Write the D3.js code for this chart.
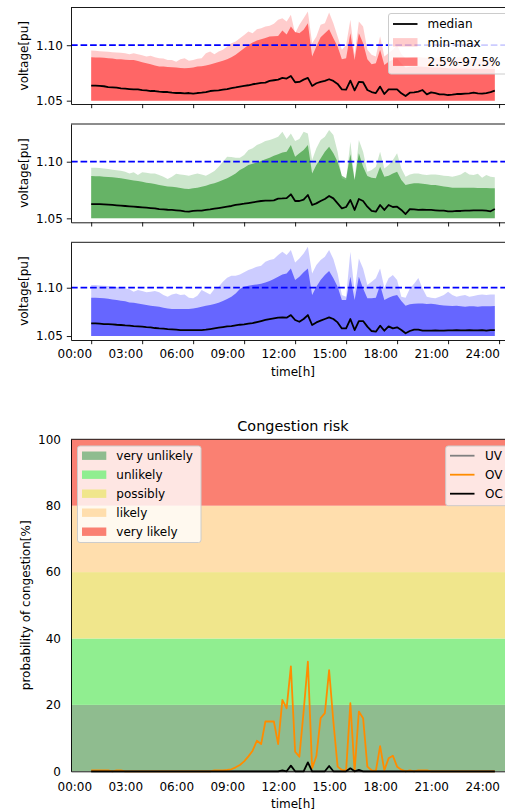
<!DOCTYPE html>
<html>
<head>
<meta charset="utf-8">
<script src="https://cdn.jsdelivr.net/npm/d3@7"></script>
<style>
  body { margin: 0; background: #fff; }
  text { font-family: "DejaVu Sans", sans-serif; fill: #000; }
</style>
</head>
<body>
<svg id="chart" width="505" height="812"></svg>
<script>
// ---- time axis ------------------------------------------------------------
const tickHours  = [0, 3, 6, 9, 12, 15, 18, 21, 24];
const tickLabels = ["00:00", "03:00", "06:00", "09:00", "12:00", "15:00", "18:00", "21:00", "24:00"];

// ---- voltage profiles, one value per quarter hour (pu) ----------------------
const lowerBound = 1.05;   // 0% and 2.5% quantiles sit on the 1.05 pu floor
const voltageLimit = 1.10;
const voltageTicks = [1.05, 1.10];

const medianA = [1.0636,1.0636,1.0633,1.0630,1.0623,1.0620,1.0617,1.0611,1.0608,1.0605,
  1.0602,1.0602,1.0596,1.0593,1.0587,1.0587,1.0581,1.0578,1.0578,1.0572,
  1.0569,1.0569,1.0566,1.0569,1.0563,1.0569,1.0572,1.0578,1.0587,1.0590,
  1.0593,1.0599,1.0605,1.0614,1.0620,1.0627,1.0633,1.0639,1.0648,1.0654,
  1.0660,1.0663,1.0678,1.0684,1.0690,1.0705,1.0699,1.0723,1.0666,1.0669,
  1.0690,1.0705,1.0633,1.0657,1.0669,1.0678,1.0693,1.0678,1.0651,1.0602,
  1.0599,1.0681,1.0593,1.0669,1.0666,1.0596,1.0578,1.0569,1.0627,1.0560,
  1.0602,1.0602,1.0602,1.0566,1.0542,1.0572,1.0575,1.0581,1.0596,1.0557,
  1.0575,1.0569,1.0557,1.0557,1.0551,1.0554,1.0560,1.0560,1.0563,1.0566,
  1.0572,1.0566,1.0563,1.0569,1.0578,1.0590];
const upperA = [1.0892,1.0890,1.0890,1.0886,1.0883,1.0880,1.0873,1.0873,1.0870,1.0867,
  1.0867,1.0858,1.0846,1.0837,1.0828,1.0816,1.0807,1.0807,1.0804,1.0801,
  1.0798,1.0795,1.0792,1.0795,1.0798,1.0807,1.0810,1.0816,1.0825,1.0837,
  1.0849,1.0861,1.0873,1.0892,1.0913,1.0943,1.0973,1.1003,1.1024,1.1042,
  1.1054,1.1066,1.1078,1.1081,1.1084,1.1133,1.1096,1.1169,1.1120,1.1108,
  1.1139,1.1199,1.0898,1.0988,1.1072,1.1108,1.1145,1.1063,1.0988,1.0873,
  1.0883,1.1108,1.0867,1.1108,1.1018,1.0873,1.0828,1.0837,1.0958,1.0822,
  1.0852,1.0870,1.0880,1.0835,1.0800,1.0805,1.0808,1.0808,1.0805,1.0803,
  1.0800,1.0800,1.0798,1.0795,1.0793,1.0790,1.0790,1.0790,1.0790,1.0790,
  1.0788,1.0788,1.0788,1.0787,1.0786,1.0785];
const maxA = [1.0952,1.0949,1.0946,1.0943,1.0940,1.0937,1.0934,1.0931,1.0928,1.0919,
  1.0928,1.0919,1.0910,1.0898,1.0904,1.0892,1.0883,1.0880,1.0867,1.0867,
  1.0852,1.0873,1.0883,1.0861,1.0867,1.0879,1.0883,1.0928,1.0943,1.0919,
  1.0943,1.0958,1.0988,1.1018,1.1033,1.1063,1.1093,1.1123,1.1108,1.1145,
  1.1154,1.1169,1.1175,1.1193,1.1229,1.1244,1.1214,1.1274,1.1108,1.1184,
  1.1244,1.1304,1.1018,1.1078,1.1184,1.1199,1.1295,1.1199,1.1078,1.0958,
  1.1003,1.1229,1.0913,1.1214,1.1169,1.0958,1.0913,1.0898,1.1080,1.0898,
  1.0930,1.0960,1.1000,1.0920,1.0880,1.0890,1.0895,1.0893,1.0890,1.0888,
  1.0890,1.0892,1.0888,1.0885,1.0880,1.0885,1.0888,1.0895,1.0890,1.0886,
  1.0888,1.0885,1.0880,1.0884,1.0880,1.0878];

const medianB = [1.0626,1.0626,1.0626,1.0624,1.0621,1.0618,1.0615,1.0612,1.0609,1.0606,
  1.0603,1.0600,1.0597,1.0594,1.0591,1.0588,1.0582,1.0579,1.0576,1.0574,
  1.0571,1.0568,1.0562,1.0559,1.0565,1.0568,1.0568,1.0574,1.0579,1.0585,
  1.0591,1.0597,1.0603,1.0609,1.0618,1.0624,1.0629,1.0635,1.0641,1.0647,
  1.0653,1.0656,1.0656,1.0659,1.0674,1.0676,1.0679,1.0712,1.0653,1.0653,
  1.0665,1.0706,1.0618,1.0632,1.0653,1.0671,1.0697,1.0676,1.0632,1.0588,
  1.0600,1.0662,1.0574,1.0671,1.0653,1.0603,1.0565,1.0559,1.0618,1.0574,
  1.0618,1.0600,1.0603,1.0574,1.0538,1.0582,1.0579,1.0574,1.0576,1.0574,
  1.0574,1.0571,1.0568,1.0568,1.0562,1.0562,1.0565,1.0565,1.0568,1.0568,
  1.0571,1.0571,1.0571,1.0568,1.0562,1.0582];
const upperB = [1.0874,1.0871,1.0871,1.0868,1.0865,1.0862,1.0859,1.0853,1.0847,1.0841,
  1.0835,1.0829,1.0824,1.0815,1.0809,1.0803,1.0794,1.0788,1.0782,1.0779,
  1.0774,1.0768,1.0762,1.0759,1.0765,1.0771,1.0779,1.0788,1.0800,1.0809,
  1.0824,1.0838,1.0853,1.0874,1.0897,1.0926,1.0947,1.0971,1.0982,1.0994,
  1.1006,1.1021,1.1035,1.1053,1.1065,1.1082,1.1088,1.1147,1.1044,1.1074,
  1.1103,1.1147,1.0897,1.0971,1.1029,1.1088,1.1132,1.1074,1.1000,1.0876,
  1.0853,1.1065,1.0838,1.1074,1.0956,1.0874,1.0859,1.0853,1.0956,1.0868,
  1.0876,1.0897,1.0912,1.0838,1.0794,1.0803,1.0809,1.0809,1.0806,1.0800,
  1.0794,1.0794,1.0788,1.0782,1.0776,1.0771,1.0771,1.0771,1.0771,1.0771,
  1.0771,1.0768,1.0768,1.0768,1.0765,1.0765];
const maxB = [1.0947,1.0947,1.0944,1.0941,1.0935,1.0929,1.0924,1.0921,1.0912,1.0897,
  1.0906,1.0882,1.0906,1.0903,1.0897,1.0897,1.0882,1.0868,1.0847,1.0868,
  1.0894,1.0888,1.0882,1.0876,1.0888,1.0897,1.0888,1.0876,1.0897,1.0918,
  1.0956,1.1000,1.1044,1.1041,1.1035,1.1035,1.1059,1.1103,1.1118,1.1147,
  1.1162,1.1182,1.1191,1.1206,1.1221,1.1265,1.1200,1.1250,1.1182,1.1200,
  1.1265,1.1250,1.1015,1.1118,1.1191,1.1221,1.1279,1.1235,1.1088,1.0853,
  1.0838,1.1176,1.0838,1.1191,1.1088,1.0912,1.0926,1.0956,1.1088,1.0941,
  1.0971,1.1015,1.1074,1.0941,1.0868,1.0888,1.0897,1.0897,1.0888,1.0882,
  1.0888,1.0888,1.0882,1.0876,1.0874,1.0868,1.0876,1.0888,1.0912,1.0888,
  1.0882,1.0894,1.0859,1.0882,1.0868,1.0862];

const medianC = [1.0631,1.0631,1.0628,1.0624,1.0624,1.0621,1.0617,1.0614,1.0610,1.0607,
  1.0603,1.0600,1.0597,1.0593,1.0590,1.0583,1.0579,1.0576,1.0572,1.0569,
  1.0566,1.0562,1.0562,1.0562,1.0562,1.0562,1.0562,1.0566,1.0572,1.0579,
  1.0586,1.0593,1.0600,1.0603,1.0610,1.0617,1.0621,1.0628,1.0634,1.0645,
  1.0655,1.0666,1.0676,1.0683,1.0690,1.0693,1.0690,1.0717,1.0666,1.0648,
  1.0676,1.0717,1.0614,1.0641,1.0659,1.0676,1.0693,1.0676,1.0641,1.0579,
  1.0579,1.0676,1.0562,1.0655,1.0655,1.0597,1.0552,1.0545,1.0607,1.0555,
  1.0600,1.0579,1.0590,1.0562,1.0528,1.0552,1.0566,1.0566,1.0555,1.0555,
  1.0555,1.0559,1.0555,1.0555,1.0559,1.0559,1.0562,1.0559,1.0559,1.0562,
  1.0559,1.0559,1.0562,1.0555,1.0562,1.0562];
const upperC = [1.0897,1.0897,1.0893,1.0890,1.0886,1.0879,1.0872,1.0866,1.0859,1.0848,
  1.0845,1.0838,1.0828,1.0821,1.0814,1.0807,1.0803,1.0793,1.0786,1.0779,
  1.0779,1.0779,1.0779,1.0779,1.0786,1.0793,1.0803,1.0814,1.0821,1.0831,
  1.0845,1.0862,1.0883,1.0907,1.0941,1.0986,1.1010,1.1021,1.1028,1.1034,
  1.1041,1.1055,1.1069,1.1090,1.1114,1.1138,1.1148,1.1200,1.1079,1.1114,
  1.1159,1.1200,1.0924,1.1010,1.1079,1.1131,1.1172,1.1097,1.1010,1.0872,
  1.0872,1.1114,1.0872,1.1114,1.0993,1.0890,1.0890,1.0897,1.1028,1.0872,
  1.0897,1.0914,1.0924,1.0862,1.0814,1.0828,1.0834,1.0838,1.0838,1.0831,
  1.0834,1.0828,1.0821,1.0817,1.0814,1.0810,1.0814,1.0807,1.0803,1.0807,
  1.0807,1.0803,1.0807,1.0807,1.0807,1.0810];
const maxC = [1.1028,1.1028,1.1024,1.1021,1.1017,1.1014,1.1007,1.1000,1.0993,1.0983,
  1.0959,1.0976,1.0966,1.0952,1.0959,1.0966,1.0952,1.0924,1.0907,1.0931,
  1.0941,1.0924,1.0931,1.0897,1.0890,1.0917,1.0976,1.0952,1.0931,1.0986,
  1.1010,1.1062,1.1103,1.1124,1.1124,1.1138,1.1159,1.1183,1.1200,1.1217,
  1.1228,1.1269,1.1286,1.1297,1.1338,1.1372,1.1338,1.1390,1.1262,1.1303,
  1.1355,1.1424,1.1148,1.1234,1.1286,1.1321,1.1390,1.1297,1.1148,1.0924,
  1.0907,1.1372,1.0959,1.1303,1.1200,1.1028,1.1062,1.1097,1.1200,1.1000,
  1.1097,1.1131,1.1079,1.0907,1.0897,1.0993,1.1040,1.1100,1.0993,1.0907,
  1.0897,1.0890,1.0907,1.0924,1.0959,1.0924,1.0907,1.0917,1.0924,1.0907,
  1.0914,1.0924,1.0931,1.0924,1.0931,1.0931];

// ---- congestion probabilities (%) ------------------------------------------
const underVoltage = [0,0,0,0,0,0,0,0,0,0, 0,0,0,0,0,0,0,0,0,0, 0,0,0,0,0,0,0,0,0,0,
  0,0,0,0,0,0,0,0,0,0, 0,0,0,0,0,0,0,0,0,0, 0,0,0,0,0,0,0,0,0,0,
  0,0,0,0,0,0,0,0,0,0, 0,0,0,0,0,0,0,0,0,0, 0,0,0,0,0,0,0,0,0,0, 0,0,0,0,0,0];
const overVoltage = [0.3,0.3,0.3,0.3,0.3,0,0.3,0.3,0,0,
  0,0,0,0,0,0,0,0,0,0,
  0,0,0,0,0,0,0,0,0,0.3,
  0.3,0.3,0.4,0.6,1.2,1.9,3.0,4.5,6.2,9.2,
  8.2,15,15,15,8.2,21.5,19,31.6,5.9,4.4,
  18,33,0.9,4.6,16,17.5,30.5,15,1.4,0.4,
  0.2,20.5,0,18,16,1.4,0.3,0.1,7.6,0.3,
  3.9,4.7,1.4,0.5,0,0.3,0,0.3,0.3,0.3,
  0,0,0,0,0,0,0,0,0,0,
  0,0,0,0,0,0];
const overCurrent = [0,0,0,0,0,0,0,0,0,0, 0,0,0,0,0,0,0,0,0,0, 0,0,0,0,0,0,0,0,0,0,
  0,0,0,0,0,0,0,0,0,0, 0,0,0,0,0,0.3,0,1.7,0,0, 0,2.7,0,0,0,0,1.6,0,0,0,
  0,0.9,0,0.4,0,0,0,0,0,0, 0,0,0,0,0,0,0,0,0,0, 0,0,0,0,0,0,0,0,0,0, 0,0,0,0,0,0];

const bandEdges  = [0, 20, 40, 60, 80, 100];
const bandLabels = ["very unlikely", "unlikely", "possibly", "likely", "very likely"];
const bandColors = ["#8fbc8f", "#90ee90", "#f0e68c", "#ffdead", "#fa8072"];
const riskTicks  = [0, 20, 40, 60, 80, 100];
const lineLabels = ["UV", "OV", "OC"];
const lineColors = ["#808080", "#ff8c00", "#000000"];

// quarter-hour time stamps 00:00 … 23:45
const hours = d3.range(96).map(i => i * 0.25);

// ---- drawing ---------------------------------------------------------------
const svg = d3.select("#chart");
const FS = 12;
const LW = 1.8;

const x = d3.scaleLinear().domain([-1.1875, 24.9375]).range([71, 515]);

// time labels sit right-aligned against their tick
function styleTimeLabels(axisG) {
  axisG.selectAll(".tick text").attr("text-anchor", "end").attr("dx", "0.4");
}

const panels = [
  { median: medianA, upper: upperA, max: maxA, color: "#ff0000", top: 7.5,   bottom: 104,   dom: [1.047, 1.134],   labels: false, legend: true },
  { median: medianB, upper: upperB, max: maxB, color: "#008000", top: 124,   bottom: 222.3, dom: [1.0465, 1.1333], labels: false, legend: false },
  { median: medianC, upper: upperC, max: maxC, color: "#0000ff", top: 242.3, bottom: 340,   dom: [1.0459, 1.147],  labels: true,  legend: false }
];

panels.forEach(p => {
  const y = d3.scaleLinear().domain(p.dom).range([p.bottom, p.top]);
  const g = svg.append("g");

  const area = arr => d3.area().x((d, i) => x(hours[i])).y0(y(lowerBound)).y1(d => y(d))(arr);
  g.append("path").attr("d", area(p.max)).attr("fill", p.color).attr("fill-opacity", 0.2);
  g.append("path").attr("d", area(p.upper)).attr("fill", p.color).attr("fill-opacity", 0.5);

  g.append("path")
    .attr("d", d3.line().x((d, i) => x(hours[i])).y(d => y(d))(p.median))
    .attr("fill", "none").attr("stroke", "#000").attr("stroke-width", LW)
    .attr("stroke-linejoin", "round");

  g.append("line")
    .attr("x1", x.range()[0]).attr("x2", x.range()[1])
    .attr("y1", y(voltageLimit)).attr("y2", y(voltageLimit))
    .attr("stroke", "#0000ff").attr("stroke-width", LW)
    .attr("stroke-dasharray", "6.66,2.88");

  // frame
  g.append("line").attr("x1", 71).attr("x2", 515).attr("y1", p.top).attr("y2", p.top)
    .attr("stroke", "#000").attr("stroke-width", 0.9);

  const ax = g.append("g").attr("transform", `translate(0,${p.bottom})`)
    .call(d3.axisBottom(x).tickValues(tickHours)
      .tickFormat((d, i) => p.labels ? tickLabels[i] : "")
      .tickSize(4.2).tickPadding(5).tickSizeOuter(0));
  const ay = g.append("g").attr("transform", "translate(71,0)")
    .call(d3.axisLeft(y).tickValues(voltageTicks).tickFormat(d3.format(".2f"))
      .tickSize(4.2).tickPadding(4).tickSizeOuter(0));
  [ax, ay].forEach(a => {
    a.selectAll("path,line").attr("stroke", "#000").attr("stroke-width", 0.9);
    a.selectAll("text").attr("font-size", FS).attr("font-family", "DejaVu Sans").attr("fill", "#000");
  });
  styleTimeLabels(ax);

  g.append("text")
    .attr("transform", `translate(23.5,${(p.top + p.bottom) / 2}) rotate(-90)`)
    .attr("text-anchor", "middle").attr("dy", "0.35em")
    .attr("font-size", FS).text("voltage[pu]");

  if (p.labels) {
    g.append("text").attr("x", 293).attr("y", 375.5)
      .attr("text-anchor", "middle").attr("font-size", FS).text("time[h]");
  }

  if (p.legend) {
    const lg = g.append("g");
    lg.append("rect").attr("x", 388.5).attr("y", 13.5).attr("width", 130).attr("height", 60.5)
      .attr("rx", 2.5).attr("fill", "#fff").attr("fill-opacity", 0.8)
      .attr("stroke", "#cccccc").attr("stroke-width", 1);
    const rows = [24, 42.3, 61.7];
    lg.append("line").attr("x1", 393).attr("x2", 417.5).attr("y1", rows[0]).attr("y2", rows[0])
      .attr("stroke", "#000").attr("stroke-width", LW);
    lg.append("rect").attr("x", 393).attr("y", rows[1] - 4.2).attr("width", 24.5).attr("height", 8.4)
      .attr("fill", p.color).attr("fill-opacity", 0.2);
    lg.append("rect").attr("x", 393).attr("y", rows[2] - 4.2).attr("width", 24.5).attr("height", 8.4)
      .attr("fill", p.color).attr("fill-opacity", 0.5);
    ["median", "min-max", "2.5%-97.5%"].forEach((t, i) => {
      lg.append("text").attr("x", 427.5).attr("y", rows[i]).attr("dy", "0.35em")
        .attr("font-size", FS).text(t);
    });
  }
});

// ---- congestion risk panel --------------------------------------------------
const yr = d3.scaleLinear().domain([0, 100]).range([771.3, 439.3]);
const gr = svg.append("g");

bandLabels.forEach((lab, i) => {
  gr.append("rect")
    .attr("x", x.range()[0]).attr("width", x.range()[1] - x.range()[0])
    .attr("y", yr(bandEdges[i + 1])).attr("height", yr(bandEdges[i]) - yr(bandEdges[i + 1]))
    .attr("fill", bandColors[i]);
});

[underVoltage, overVoltage, overCurrent].forEach((s, k) => {
  gr.append("path")
    .attr("d", d3.line().x((d, i) => x(hours[i])).y(d => yr(d))(s))
    .attr("fill", "none").attr("stroke", lineColors[k]).attr("stroke-width", LW)
    .attr("stroke-linejoin", "round");
});

gr.append("line").attr("x1", 71).attr("x2", 515).attr("y1", yr(100)).attr("y2", yr(100))
  .attr("stroke", "#000").attr("stroke-width", 0.9);

const rx = gr.append("g").attr("transform", `translate(0,${yr(0)})`)
  .call(d3.axisBottom(x).tickValues(tickHours).tickFormat((d, i) => tickLabels[i])
    .tickSize(0).tickPadding(11).tickSizeOuter(0));
const ry = gr.append("g").attr("transform", "translate(71,0)")
  .call(d3.axisLeft(yr).tickValues(riskTicks).tickFormat(d3.format("d"))
    .tickSize(0).tickPadding(10).tickSizeOuter(0));
[rx, ry].forEach(a => {
  a.selectAll("path").attr("stroke", "#000").attr("stroke-width", 0.9);
  a.selectAll("text").attr("font-size", FS).attr("font-family", "DejaVu Sans").attr("fill", "#000");
});
styleTimeLabels(rx);

gr.append("text").attr("x", 293).attr("y", 431)
  .attr("text-anchor", "middle").attr("font-size", 14.4).text("Congestion risk");
gr.append("text").attr("x", 293).attr("y", 808)
  .attr("text-anchor", "middle").attr("font-size", FS).text("time[h]");
gr.append("text")
  .attr("transform", `translate(26,${(yr(0) + yr(100)) / 2}) rotate(-90)`)
  .attr("text-anchor", "middle").attr("dy", "0.35em")
  .attr("font-size", FS).text("probability of congestion[%]");

// band legend
const lb = gr.append("g");
lb.append("rect").attr("x", 77.5).attr("y", 446).attr("width", 123.5).attr("height", 96.5)
  .attr("rx", 2.5).attr("fill", "#fff").attr("fill-opacity", 0.8)
  .attr("stroke", "#cccccc").attr("stroke-width", 1);
const bandRows = [455.7, 474.7, 493.7, 512.7, 531.7];
bandLabels.forEach((lab, i) => {
  lb.append("rect").attr("x", 82).attr("y", bandRows[i] - 4.2).attr("width", 24.3).attr("height", 8.4)
    .attr("fill", bandColors[i]);
  lb.append("text").attr("x", 116.3).attr("y", bandRows[i]).attr("dy", "0.35em")
    .attr("font-size", FS).text(lab);
});

// line legend
const ll = gr.append("g");
ll.append("rect").attr("x", 445.7).attr("y", 446).attr("width", 75).attr("height", 59.7)
  .attr("rx", 2.5).attr("fill", "#fff").attr("fill-opacity", 0.8)
  .attr("stroke", "#cccccc").attr("stroke-width", 1);
lineLabels.forEach((lab, i) => {
  const yy = bandRows[i];
  ll.append("line").attr("x1", 450).attr("x2", 474.5).attr("y1", yy).attr("y2", yy)
    .attr("stroke", lineColors[i]).attr("stroke-width", LW);
  ll.append("text").attr("x", 485).attr("y", yy).attr("dy", "0.35em")
    .attr("font-size", FS).text(lab);
});
</script>
</body>
</html>
